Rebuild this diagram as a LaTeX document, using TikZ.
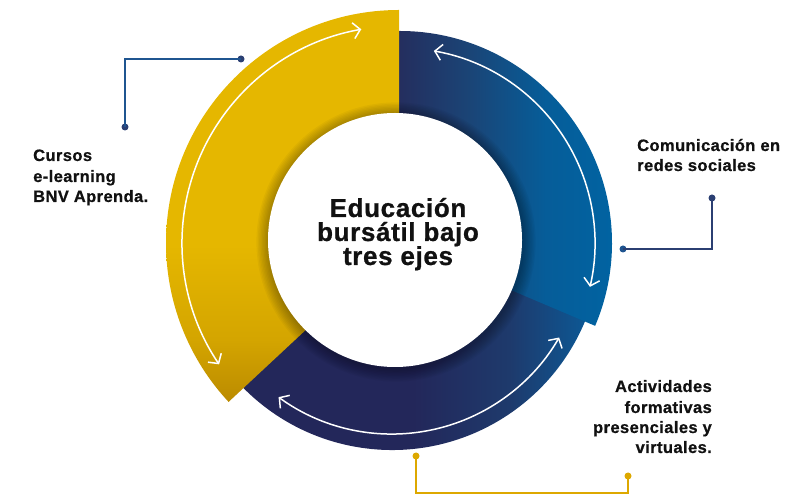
\documentclass[tikz,border=0pt]{standalone}
\usepackage{fontspec}
\newfontfamily\lblfont[LetterSpace=2.5,BoldFeatures={FakeBold=0.8}]{Liberation Sans}
\usetikzlibrary{arrows.meta}
\definecolor{navA}{HTML}{23275A}
\definecolor{navB}{HTML}{1E3A6C}
\definecolor{navC}{HTML}{0A5C9A}
\definecolor{bluA}{HTML}{252C5C}
\definecolor{bluB}{HTML}{1A4577}
\definecolor{bluC}{HTML}{065D99}
\definecolor{bluD}{HTML}{0064A3}
\definecolor{yelA}{HTML}{BB8B00}
\definecolor{yelB}{HTML}{D4A500}
\definecolor{yelC}{HTML}{E5B700}
\definecolor{conBlue}{HTML}{1F5590}
\definecolor{conNavy}{HTML}{2B3F72}
\definecolor{conGold}{HTML}{DDA800}
\definecolor{txt}{HTML}{111111}
\pgfdeclarehorizontalshading{navsh}{100bp}{color(0bp)=(navA); color(25bp)=(navA); color(52bp)=(navA); color(64bp)=(navB); color(75bp)=(navC); color(100bp)=(navC)}
\pgfdeclarehorizontalshading{blush}{100bp}{color(0bp)=(bluA); color(25bp)=(bluA); color(42bp)=(bluB); color(58bp)=(bluC); color(75bp)=(bluD); color(100bp)=(bluD)}
\pgfdeclareverticalshading{yelsh}{100bp}{color(0bp)=(yelA); color(25bp)=(yelA); color(33bp)=(yelB); color(45bp)=(yelC); color(75bp)=(yelC); color(100bp)=(yelC)}
\tikzset{
  warr/.style={white,line width=1.5pt,{Straight Barb[length=7pt,width=16pt]}-{Straight Barb[length=7pt,width=16pt]}},
  conn/.style={line width=1.6pt},
  dotn/.style={circle,inner sep=0pt,minimum size=7pt},
  lbl/.style={font={\lblfont\bfseries\fontsize{16.5}{20}\selectfont},inner sep=0pt,text=txt},
  ttl/.style={font={\lblfont\bfseries\fontsize{26}{24}\selectfont},inner sep=0pt,text=txt}
}
\begin{document}
\begin{tikzpicture}[x=1pt,y=1pt]
\useasboundingbox (0,0) rectangle (811,495);
\coordinate (N) at (392,254);
\coordinate (B) at (400,252);
\coordinate (Y) at (399,252);
\coordinate (W) at (395,255);
% navy bottom segment
\shade[shading=navsh] ([shift={(200:100pt)}]N) arc[start angle=200,end angle=350,radius=100pt] -- ([shift={(350:209pt)}]N) arc[start angle=350,end angle=200,radius=209pt] -- cycle;
% blue top-right segment
\shade[shading=blush] ([shift={(92:100pt)}]B) arc[start angle=92,end angle=-23,radius=100pt] -- ([shift={(-23:212pt)}]B) arc[start angle=-23,end angle=92,radius=212pt] -- cycle;
% yellow left segment
\shade[shading=yelsh] ([shift={(90:100pt)}]Y) -- ([shift={(90:233pt)}]Y) arc[start angle=90,end angle=223,radius=233pt] -- ([shift={(223:100pt)}]Y) arc[start angle=223,end angle=90,radius=100pt] -- cycle;
% soft shadow of the inner circle
\foreach \i in {1,...,9} {
  \fill[black,opacity=0.035] ([shift={(1,-2)}]W) circle[radius={(127+1.4*\i)*1pt}];
}
\fill[white] (W) circle[radius=127pt];
% white double arrows
\draw[warr] ([shift={(100:217pt)}]Y) arc[start angle=100,end angle=214,radius=217pt];
\draw[warr] ([shift={(80:195pt)}]B) arc[start angle=80,end angle=-13,radius=195pt];
\draw[warr] ([shift={(234:193pt)}]N) arc[start angle=234,end angle=330,radius=193pt];
% connectors
\node[dotn,fill=conNavy] (d1a) at (241,436) {};
\node[dotn,fill=conNavy] (d1b) at (125,368) {};
\coordinate (c1) at (125,436);
\draw[conn,conBlue] (d1a.center) -- (c1) -- (d1b.center);
\node[dotn,fill=conBlue] (d2a) at (623,246) {};
\node[dotn,fill=conNavy] (d2b) at (712,297) {};
\coordinate (c2) at (712,246);
\draw[conn,conNavy] (d2a.center) -- (c2) -- (d2b.center);
\node[dotn,fill=conGold] (d3a) at (416,39) {};
\node[dotn,fill=conGold] (d3b) at (628,19) {};
\coordinate (c3a) at (416,2);
\coordinate (c3b) at (628,2);
\draw[conn,conGold] (d3a.center) -- (c3a) -- (c3b) -- (d3b.center);
% labels
\node[lbl,anchor=base west] (l1a) at (33,334) {Cursos};
\node[lbl,anchor=base west] (l1b) at (33,313) {e-learning};
\node[lbl,anchor=base west] (l1c) at (33,293) {BNV Aprenda.};
\node[lbl,anchor=base west] (l2a) at (637,344) {Comunicación en};
\node[lbl,anchor=base west] (l2b) at (637,324) {redes sociales};
\node[lbl,anchor=base east] (l3a) at (712,103) {Actividades};
\node[lbl,anchor=base east] (l3b) at (712,82) {formativas};
\node[lbl,anchor=base east] (l3c) at (712,62) {presenciales y};
\node[lbl,anchor=base east] (l3d) at (712,42) {virtuales.};
\node[ttl,anchor=base] (t1) at (398,278) {Educación};
\node[ttl,anchor=base] (t2) at (398,254) {bursátil bajo};
\node[ttl,anchor=base] (t3) at (398,230) {tres ejes};
\end{tikzpicture}
\end{document}
